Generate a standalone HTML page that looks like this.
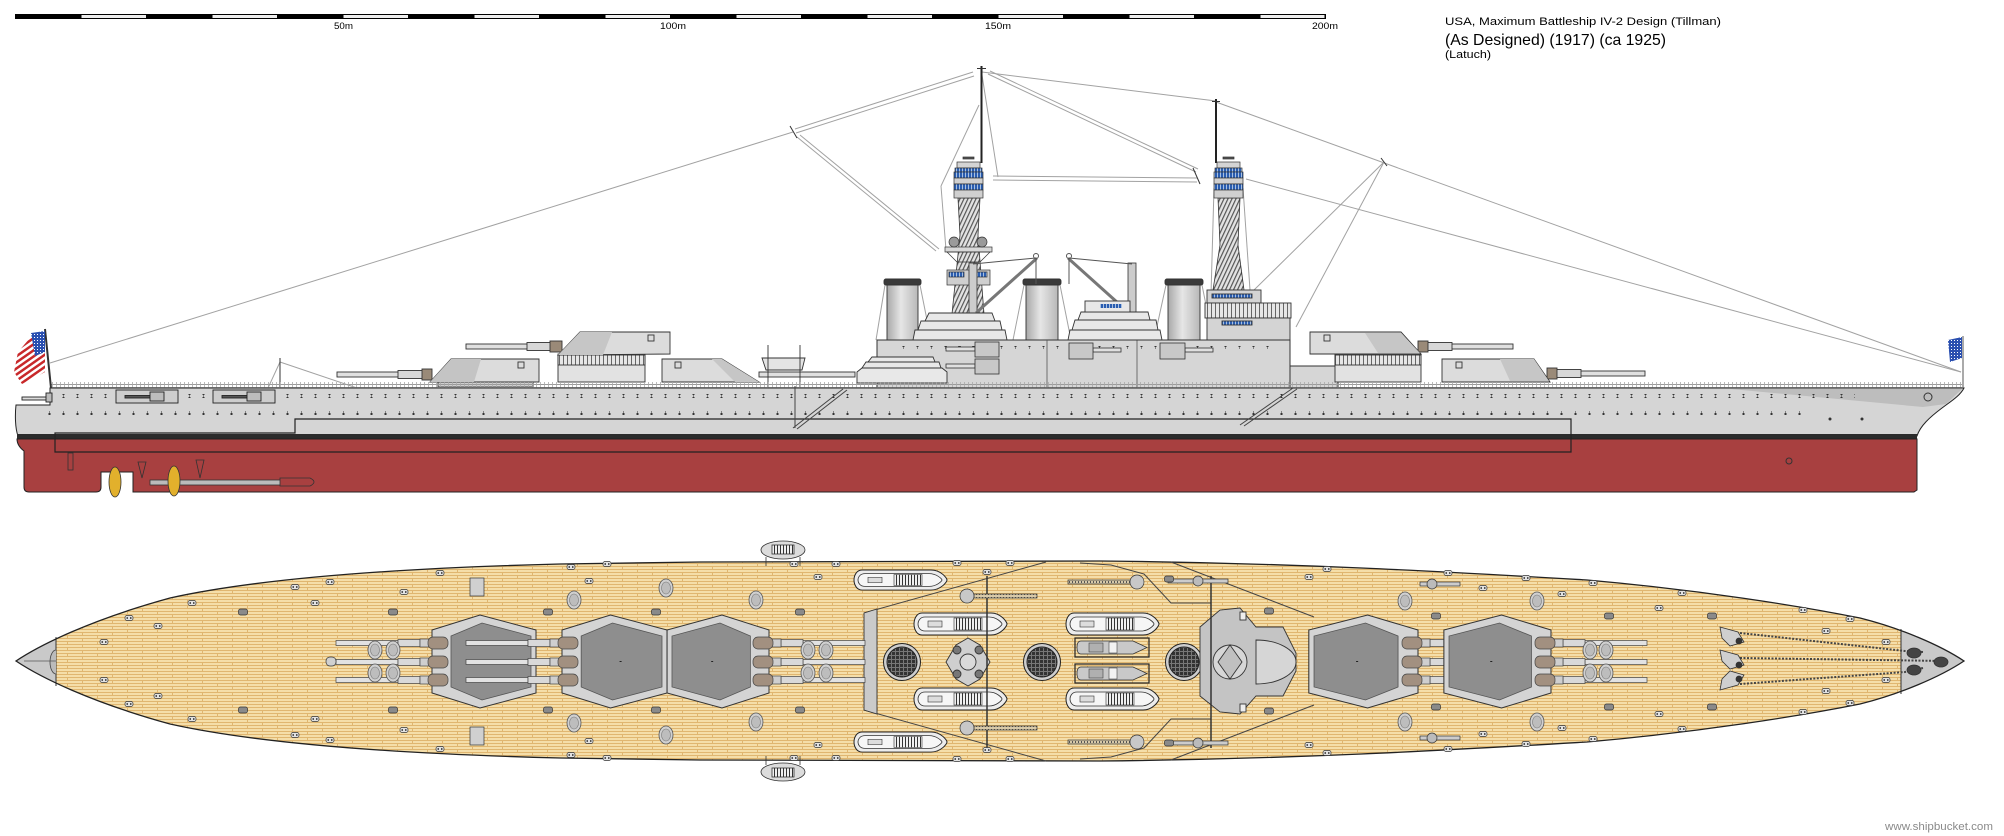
<!DOCTYPE html>
<html><head><meta charset="utf-8">
<style>
html,body{margin:0;padding:0;background:#fff;}
body{width:2004px;height:836px;overflow:hidden;position:relative;}
svg{position:absolute;left:0;top:0;}
text{font-family:"Liberation Sans",Arial,sans-serif;}
</style></head><body>
<svg width="2004" height="836" viewBox="0 0 2004 836" xmlns="http://www.w3.org/2000/svg">
<defs>
 <pattern id="planks" width="30" height="6" patternUnits="userSpaceOnUse">
  <rect width="30" height="6" fill="#F5DEA9"/>
  <rect y="2" width="30" height="1" fill="#E0B670"/>
  <rect y="5" width="30" height="1" fill="#E0B670"/>
  <rect x="7" y="0" width="1" height="2" fill="#E0B670"/>
  <rect x="22" y="3" width="1" height="2" fill="#E0B670"/>
 </pattern>
 <pattern id="ports" width="14" height="4" patternUnits="userSpaceOnUse">
  <rect x="6" y="1.5" width="3" height="1" fill="#333"/><rect x="7" y="0.5" width="1" height="3" fill="#333"/>
 </pattern>
 <pattern id="rail" width="4" height="6" patternUnits="userSpaceOnUse">
  <rect width="4" height="1" fill="#9a9a9a"/><rect y="3" width="4" height="0.8" fill="#b8b8b8"/><rect width="0.8" height="6" fill="#a8a8a8"/>
 </pattern>
 <pattern id="vstripe" width="4" height="10" patternUnits="userSpaceOnUse">
  <rect width="4" height="10" fill="#e6e6e6"/><rect x="3" width="1" height="10" fill="#666"/>
 </pattern>
 <pattern id="cage" width="4" height="6" patternUnits="userSpaceOnUse" patternTransform="skewX(-25)">
  <rect width="4" height="6" fill="#e2e2e2"/><rect width="1.3" height="6" fill="#555"/>
 </pattern>
 <pattern id="win" width="3" height="10" patternUnits="userSpaceOnUse">
  <rect width="3" height="10" fill="#2a5db0"/><rect x="2" width="1" height="10" fill="#a8c0e0"/>
 </pattern>
 <pattern id="fgrid" width="4" height="4" patternUnits="userSpaceOnUse">
  <rect width="4" height="4" fill="#333"/><rect x="3" width="1" height="4" fill="#777"/><rect y="3" width="4" height="1" fill="#777"/>
 </pattern>
 <pattern id="stars" width="3" height="3" patternUnits="userSpaceOnUse">
  <rect width="3" height="3" fill="#2a4fb0"/><rect x="1" y="1" width="1" height="1" fill="#fff"/>
 </pattern>
 <pattern id="fstripe" width="10" height="5" patternUnits="userSpaceOnUse" patternTransform="rotate(-35)">
  <rect width="10" height="2.5" fill="#c8282a"/><rect y="2.5" width="10" height="2.5" fill="#fff"/>
 </pattern>
 <pattern id="thw" width="3" height="10" patternUnits="userSpaceOnUse">
  <rect width="3" height="10" fill="#f0f0f0"/><rect width="1" height="10" fill="#333"/>
 </pattern>
 <pattern id="dotb" width="3" height="4" patternUnits="userSpaceOnUse">
  <rect width="3" height="4" fill="#d8c9a8"/><rect x="1" y="1" width="1" height="2" fill="#555"/>
 </pattern>
 <linearGradient id="fun" x1="0" y1="0" x2="1" y2="0">
  <stop offset="0" stop-color="#a8a8a8"/><stop offset="0.45" stop-color="#e6e6e6"/><stop offset="1" stop-color="#b8b8b8"/>
 </linearGradient>
 <clipPath id="deckclip"><path d="M16,661 C40,645 90,620 170,598 C260,578 400,568 560,564 L700,562 L1100,561 C1300,563 1450,572 1587,580 C1700,590 1800,606 1860,618 C1900,628 1940,645 1964,661 C1940,677 1900,694 1860,704 C1800,716 1700,732 1587,742 C1450,750 1300,759 1100,761 L700,760 L560,758 C400,754 260,744 170,724 C90,702 40,677 16,661 Z"/></clipPath>
 <clipPath id="flagclip"><polygon points="45,331 45,372 34,378 22,384 14,372 18,352 30,338"/></clipPath>

 <g id="boatT">
  <path d="M8,0 L77,0 C87,0 93,9 93,11 C93,13 87,22 77,22 L8,22 C2,22 0,15 0,11 C0,7 2,0 8,0 Z" fill="#ececec" stroke="#222" stroke-width="1"/>
  <path d="M11,4 L75,4 C83,4 88,10 88,11 C88,12 83,18 75,18 L11,18 C6,18 4,14 4,11 C4,8 6,4 11,4 Z" fill="#f6f6f6" stroke="#333" stroke-width="0.8"/>
  <rect x="40" y="5" width="28" height="12" fill="url(#thw)" stroke="#333" stroke-width="0.6"/>
  <rect x="14" y="8" width="14" height="6" fill="#ddd" stroke="#333" stroke-width="0.6"/>
 </g>
 <g id="launch">
  <rect x="0" y="0" width="74" height="19" fill="none" stroke="#222" stroke-width="1.2"/>
  <path d="M6,3 L58,3 L72,9.5 L58,16 L6,16 C3,16 2,13 2,9.5 C2,6 3,3 6,3 Z" fill="#c9c9c9" stroke="#333" stroke-width="0.8"/>
  <rect x="14" y="5" width="14" height="9" fill="#b0b0b0" stroke="#444" stroke-width="0.6"/>
  <rect x="34" y="4" width="8" height="11" fill="#f2f2f2" stroke="#444" stroke-width="0.6"/>
 </g>
 <g id="hexL">
  <polygon points="0,-31.5 48,-46.5 104,-31.5 104,31.5 48,46.5 0,31.5" fill="#d4d4d4" stroke="#333" stroke-width="1"/>
  <polygon points="19,-25.5 50,-38.5 99,-25.5 99,25.5 50,38.5 19,25.5" fill="#8e8e8e" stroke="#555" stroke-width="0.8"/>
  <rect x="57" y="-0.5" width="2" height="1" fill="#222"/>
 </g>
 <g id="gunL" stroke="#444" stroke-width="0.7">
  <rect x="-96" y="-21.5" width="62" height="5" fill="#e2e2e2"/>
  <rect x="-34" y="-22.5" width="22" height="7" fill="#d9d9d9"/>
  <rect x="-12" y="-23" width="9" height="8" fill="#cfcfcf"/>
  <rect x="-4" y="-25" width="20" height="12" rx="5" fill="#a29080"/>
  <rect x="-96" y="-2.5" width="62" height="5" fill="#e2e2e2"/>
  <rect x="-34" y="-3.5" width="22" height="7" fill="#d9d9d9"/>
  <rect x="-12" y="-4" width="9" height="8" fill="#cfcfcf"/>
  <rect x="-4" y="-6" width="20" height="12" rx="5" fill="#a29080"/>
  <rect x="-96" y="15.5" width="62" height="5" fill="#e2e2e2"/>
  <rect x="-34" y="14.5" width="22" height="7" fill="#d9d9d9"/>
  <rect x="-12" y="14" width="9" height="8" fill="#cfcfcf"/>
  <rect x="-4" y="12" width="20" height="12" rx="5" fill="#a29080"/>
 </g>
 <g id="bol"><rect x="-4" y="-2.5" width="8" height="5" rx="2" fill="#e2e2e2" stroke="#333" stroke-width="0.7"/><rect x="-2.5" y="-1" width="1.5" height="2" fill="#555"/><rect x="1" y="-1" width="1.5" height="2" fill="#555"/></g>
 <g id="vent"><rect x="-4.5" y="-3" width="9" height="6" rx="2" fill="#8a8a8a" stroke="#333" stroke-width="0.7"/></g>
 <g id="vtl"><ellipse cx="0" cy="0" rx="7" ry="9" fill="#d0d0d0" stroke="#555" stroke-width="0.8"/><ellipse cx="0" cy="0" rx="4.5" ry="6" fill="#bdbdbd" stroke="#777" stroke-width="0.6"/></g>
</defs>

<rect width="2004" height="836" fill="#fff"/>

<!-- ===== SCALE BAR ===== -->
<rect x="15" y="14" width="1311" height="5" fill="#000"/>
<g fill="#eeeeee">
 <rect x="81.5" y="15" width="64.5" height="3"/><rect x="212.5" y="15" width="64.5" height="3"/>
 <rect x="343.5" y="15" width="64.5" height="3"/><rect x="474.5" y="15" width="64.5" height="3"/>
 <rect x="605.5" y="15" width="64.5" height="3"/><rect x="736.5" y="15" width="64.5" height="3"/>
 <rect x="867.5" y="15" width="64.5" height="3"/><rect x="998.5" y="15" width="64.5" height="3"/>
 <rect x="1129.5" y="15" width="64.5" height="3"/><rect x="1260.5" y="15" width="64" height="3"/>
</g>
<g font-size="9" fill="#000">
 <text x="334" y="29" textLength="19" lengthAdjust="spacingAndGlyphs">50m</text>
 <text x="660" y="29" textLength="26" lengthAdjust="spacingAndGlyphs">100m</text>
 <text x="985" y="29" textLength="26" lengthAdjust="spacingAndGlyphs">150m</text>
 <text x="1312" y="29" textLength="26" lengthAdjust="spacingAndGlyphs">200m</text>
</g>

<!-- ===== TITLE ===== -->
<text x="1445" y="25" font-size="11" fill="#000" textLength="276" lengthAdjust="spacingAndGlyphs">USA, Maximum Battleship IV-2 Design (Tillman)</text>
<text x="1445" y="45" font-size="16" fill="#000" textLength="221" lengthAdjust="spacingAndGlyphs">(As Designed) (1917) (ca 1925)</text>
<text x="1445" y="58" font-size="11" fill="#000" textLength="46" lengthAdjust="spacingAndGlyphs">(Latuch)</text>

<!-- ===== SIDE VIEW ===== -->
<!-- rigging -->
<g stroke="#a2a2a2" stroke-width="1" fill="none">
 <line x1="50" y1="363" x2="793" y2="132"/>
 <line x1="795" y1="129" x2="973" y2="72"/>
 <line x1="796" y1="133" x2="974" y2="76"/>
 <line x1="797" y1="137" x2="936" y2="251"/>
 <line x1="800" y1="135" x2="939" y2="249"/>
 <line x1="982" y1="72" x2="1216" y2="101"/>
 <line x1="988" y1="74" x2="1196" y2="172"/>
 <line x1="990" y1="71" x2="1198" y2="169"/>
 <line x1="993" y1="176" x2="1197" y2="178"/>
 <line x1="993" y1="180" x2="1197" y2="182"/>
 <line x1="1216" y1="102" x2="1961" y2="372"/>
 <line x1="1246" y1="179" x2="1961" y2="372"/>
 <line x1="1384" y1="162" x2="1296" y2="327"/>
 <line x1="1384" y1="162" x2="1253" y2="291"/>
 <line x1="982" y1="75" x2="998" y2="177"/>
 <line x1="979" y1="105" x2="941" y2="186"/>
 <line x1="941" y1="186" x2="946" y2="250"/>
 <line x1="1214" y1="188" x2="1210" y2="330"/>
 <line x1="1243" y1="188" x2="1250" y2="290"/>
 <line x1="280" y1="362" x2="357" y2="388"/>
 <line x1="280" y1="362" x2="268" y2="388"/>
 <line x1="885" y1="285" x2="876" y2="340"/><line x1="920" y1="285" x2="931" y2="340"/>
 <line x1="1024" y1="285" x2="1013" y2="340"/><line x1="1060" y1="285" x2="1071" y2="340"/>
 <line x1="1166" y1="285" x2="1154" y2="340"/><line x1="1202" y1="285" x2="1213" y2="340"/>
</g>
<g stroke="#333" stroke-width="1">
 <line x1="790" y1="126" x2="797" y2="138"/>
 <line x1="1193" y1="168" x2="1200" y2="184"/>
 <line x1="1381" y1="158" x2="1387" y2="166"/>
 <line x1="280" y1="358" x2="280" y2="388"/>
</g>

<!-- pole masts -->
<rect x="980.5" y="66" width="2" height="97" fill="#222"/>
<rect x="977" y="68" width="9" height="1" fill="#333"/>
<rect x="1215" y="99" width="2" height="64" fill="#222"/>
<rect x="1212" y="101" width="8" height="1" fill="#333"/>

<!-- aft cage mast -->
<polygon points="958,198 980,198 978,235 984,314 952,314 960,235" fill="url(#cage)" stroke="#333" stroke-width="0.8"/>
<g stroke="#333" stroke-width="0.7">
 <rect x="963" y="157" width="11" height="2" fill="#555"/>
 <rect x="957" y="162" width="23" height="6" fill="#d4d4d4"/>
 <rect x="955" y="168" width="27" height="4" fill="url(#win)"/>
 <rect x="954" y="172" width="29" height="6" fill="url(#win)"/>
 <rect x="954" y="178" width="29" height="6" fill="#d0d0d0"/>
 <rect x="954" y="184" width="29" height="6" fill="url(#win)"/>
 <rect x="954" y="190" width="29" height="8" fill="#d0d0d0"/>
 <rect x="945" y="247" width="47" height="5" fill="#d8d8d8"/>
 <circle cx="954" cy="242" r="5" fill="#9a9a9a"/>
 <circle cx="982" cy="242" r="5" fill="#9a9a9a"/>
 <polygon points="947,252 990,252 980,262 957,262" fill="none"/>
 <rect x="947" y="270" width="43" height="15" fill="#cfcfcf"/>
 <rect x="949" y="272" width="15" height="5" fill="url(#win)"/>
 <rect x="972" y="272" width="15" height="5" fill="url(#win)"/>
</g>

<!-- fore cage mast -->
<polygon points="1218,198 1240,198 1238,245 1244,290 1213,290 1220,245" fill="url(#cage)" stroke="#333" stroke-width="0.8"/>
<g stroke="#333" stroke-width="0.7">
 <rect x="1223" y="157" width="11" height="2" fill="#555"/>
 <rect x="1217" y="162" width="23" height="6" fill="#d4d4d4"/>
 <rect x="1215" y="168" width="27" height="4" fill="url(#win)"/>
 <rect x="1214" y="172" width="29" height="6" fill="url(#win)"/>
 <rect x="1214" y="178" width="29" height="6" fill="#d0d0d0"/>
 <rect x="1214" y="184" width="29" height="6" fill="url(#win)"/>
 <rect x="1214" y="190" width="29" height="8" fill="#d0d0d0"/>
</g>

<!-- funnels -->
<g stroke="#333" stroke-width="0.9">
 <rect x="887" y="284" width="31" height="56" fill="url(#fun)"/>
 <rect x="884" y="279" width="37" height="6" rx="2" fill="#3a3a3a"/>
 <rect x="1026" y="284" width="32" height="56" fill="url(#fun)"/>
 <rect x="1023" y="279" width="38" height="6" rx="2" fill="#3a3a3a"/>
 <rect x="1168" y="284" width="32" height="56" fill="url(#fun)"/>
 <rect x="1165" y="279" width="38" height="6" rx="2" fill="#3a3a3a"/>
</g>

<!-- cranes -->
<g stroke="#333" stroke-width="0.8">
 <rect x="969" y="263" width="8" height="77" fill="#cccccc"/>
 <rect x="1128" y="263" width="8" height="77" fill="#cccccc"/>
</g>
<g stroke="#777" stroke-width="3" stroke-linecap="round">
 <line x1="977" y1="312" x2="1036" y2="259"/>
 <line x1="1128" y1="312" x2="1069" y2="259"/>
</g>
<g stroke="#555" stroke-width="1" fill="none">
 <line x1="973" y1="264" x2="1036" y2="258"/>
 <line x1="1132" y1="264" x2="1069" y2="258"/>
 <line x1="1036" y1="258" x2="1036" y2="284"/>
 <line x1="1069" y1="258" x2="1069" y2="284"/>
 <circle cx="1036" cy="256" r="2.5"/><circle cx="1069" cy="256" r="2.5"/>
</g>

<!-- bridge -->
<g stroke="#333" stroke-width="0.9">
 <rect x="1207" y="290" width="54" height="13" fill="#d4d4d4"/>
 <rect x="1212" y="294" width="40" height="4" fill="url(#win)"/>
 <rect x="1205" y="303" width="86" height="15" fill="url(#vstripe)"/>
 <rect x="1207" y="318" width="83" height="22" fill="#d4d4d4"/>
 <rect x="1222" y="321" width="30" height="4" fill="url(#win)"/>
</g>

<!-- superstructure block -->
<rect x="877" y="340" width="413" height="48" fill="#d6d6d6" stroke="#333" stroke-width="1"/>
<rect x="1290" y="366" width="48" height="22" fill="#d6d6d6" stroke="#333" stroke-width="1"/>
<g stroke="#555" stroke-width="0.8"><line x1="1047" y1="340" x2="1047" y2="388"/><line x1="1137" y1="340" x2="1137" y2="388"/></g>
<rect x="900" y="346" width="370" height="3" fill="url(#ports)"/>

<!-- superstructure casemates -->
<g stroke="#333" stroke-width="0.8">
 <rect x="946" y="347" width="29" height="4" fill="#e0e0e0"/><rect x="975" y="342" width="24" height="15" fill="#c8c8c8"/>
 <rect x="946" y="364" width="29" height="4" fill="#e0e0e0"/><rect x="975" y="359" width="24" height="15" fill="#c8c8c8"/>
 <rect x="1093" y="348" width="28" height="4" fill="#e0e0e0"/><rect x="1069" y="343" width="24" height="16" fill="#c8c8c8"/>
 <rect x="1185" y="348" width="28" height="4" fill="#e0e0e0"/><rect x="1160" y="343" width="25" height="16" fill="#c8c8c8"/>
</g>

<!-- boat stacks (side) -->
<g fill="#e8e8e8" stroke="#333" stroke-width="0.9">
 <path d="M857,383 L947,383 L947,372 L942,368 L862,368 L857,372 Z"/>
 <path d="M862,368 L941,368 L939,362 L866,362 Z"/>
 <path d="M868,362 L935,362 L933,357 L872,357 Z"/>
 <path d="M913,340 L1007,340 L1005,330 L915,330 Z"/>
 <path d="M918,330 L1002,330 L1000,321 L921,321 Z"/>
 <path d="M925,321 L995,321 L992,313 L929,313 Z"/>
 <path d="M1068,340 L1162,340 L1160,330 L1070,330 Z"/>
 <path d="M1072,330 L1158,330 L1156,320 L1075,320 Z"/>
 <path d="M1078,320 L1150,320 L1148,312 L1081,312 Z"/>
 <rect x="1085" y="301" width="45" height="11"/>
</g>
<rect x="1100" y="304" width="22" height="4" fill="url(#win)"/>

<!-- turrets side -->
<g stroke="#333" stroke-width="0.9">
 <!-- Y -->
 <rect x="337" y="372" width="62" height="5" fill="#e0e0e0"/>
 <rect x="398" y="370.5" width="25" height="8" fill="#d8d8d8"/>
 <rect x="422" y="369" width="10" height="11" fill="#9a8a78"/>
 <rect x="438" y="382" width="95" height="5" fill="#d0d0d0"/>
 <polygon points="430,382 451,359 539,359 539,382" fill="#dcdcdc"/>
 <polygon points="430,382 451,359 481,359 474,382" fill="#c4c4c4" stroke="none"/>
 <rect x="518" y="362" width="6" height="6" fill="none"/>
 <!-- X -->
 <rect x="466" y="344" width="62" height="5" fill="#e0e0e0"/>
 <rect x="527" y="342.5" width="25" height="8" fill="#d8d8d8"/>
 <rect x="550" y="341" width="12" height="11" fill="#9a8a78"/>
 <rect x="558" y="354" width="87" height="28" fill="#e2e2e2"/>
 <rect x="558" y="355" width="87" height="10" fill="url(#vstripe)"/>
 <polygon points="558,355 580,332 670,332 670,354" fill="#dcdcdc"/>
 <polygon points="558,355 580,332 612,332 603,355" fill="#c6c6c6" stroke="none"/>
 <rect x="648" y="335" width="6" height="6" fill="none"/>
 <!-- Q -->
 <rect x="759" y="372" width="96" height="5" fill="#e0e0e0"/>
 <polygon points="662,359 722,359 759,382 662,382" fill="#dcdcdc"/>
 <polygon points="712,359 722,359 759,382 735,382" fill="#c6c6c6" stroke="none"/>
 <rect x="675" y="362" width="6" height="6" fill="none"/>
 <!-- davit boat over Q guns -->
 <path d="M762,358 L805,358 L802,370 L766,370 Z" fill="#e4e4e4"/>
 <line x1="768" y1="345" x2="768" y2="388"/><line x1="800" y1="345" x2="800" y2="388"/>
 <!-- B -->
 <rect x="1335" y="354" width="86" height="28" fill="#e2e2e2"/>
 <rect x="1335" y="355" width="86" height="10" fill="url(#vstripe)"/>
 <rect x="1451" y="344" width="62" height="5" fill="#e0e0e0"/>
 <rect x="1427" y="342.5" width="25" height="8" fill="#d8d8d8"/>
 <rect x="1418" y="341" width="10" height="11" fill="#9a8a78"/>
 <polygon points="1310,332 1401,332 1421,354 1310,354" fill="#dcdcdc"/>
 <polygon points="1365,333 1401,333 1420,353 1378,353" fill="#c6c6c6" stroke="none"/>
 <rect x="1324" y="335" width="6" height="6" fill="none"/>
 <!-- A -->
 <rect x="1580" y="371" width="65" height="5" fill="#e0e0e0"/>
 <rect x="1556" y="369.5" width="25" height="8" fill="#d8d8d8"/>
 <rect x="1547" y="368" width="10" height="11" fill="#9a8a78"/>
 <polygon points="1442,359 1534,359 1550,382 1442,382" fill="#dcdcdc"/>
 <polygon points="1500,359 1534,359 1549,381 1510,381" fill="#c6c6c6" stroke="none"/>
 <rect x="1456" y="362" width="6" height="6" fill="none"/>
</g>

<!-- railing -->
<rect x="50" y="382" width="1912" height="6" fill="url(#rail)"/>

<!-- hull -->
<path d="M16,405 H50 V388 H1964 C1960,396 1950,402 1942,408 C1930,417 1920,426 1917,436 L18,436 C15,428 15,414 16,405 Z" fill="#d5d5d5" stroke="#222" stroke-width="1"/>
<polygon points="1731,389 1962,389 1946,404 1923,407" fill="#bdbdbd"/>
<rect x="17" y="434" width="1900" height="5" fill="#2b2b2b"/>
<path d="M17,439 H1917 V490 L1914,492 H133 V472 H101 V487 Q101,492 96,492 H29 Q24,492 24,487 V451 C20,448 17,444 17,439 Z" fill="#a84040" stroke="#222" stroke-width="1"/>
<path d="M55,452 V433 H295 V419 H1571 V452 Z" fill="none" stroke="#222" stroke-width="1.2"/>
<rect x="60" y="394" width="1795" height="4" fill="url(#ports)"/>
<rect x="40" y="411" width="1765" height="4" fill="url(#ports)"/>
<circle cx="1830" cy="419" r="1.5" fill="#333"/><circle cx="1862" cy="419" r="1.5" fill="#333"/>
<circle cx="1928" cy="397" r="4" fill="none" stroke="#333"/>
<circle cx="1789" cy="461" r="3" fill="none" stroke="#333"/>
<rect x="68" y="453" width="5" height="17" fill="none" stroke="#333" stroke-width="0.8"/>

<!-- hull casemates -->
<g stroke="#222" stroke-width="0.9">
 <rect x="116" y="390" width="62" height="13" fill="#cdcdcd"/>
 <rect x="125" y="395.5" width="28" height="2.5" fill="#555"/>
 <rect x="150" y="392" width="14" height="9" fill="#bdbdbd"/>
 <rect x="213" y="390" width="62" height="13" fill="#cdcdcd"/>
 <rect x="222" y="395.5" width="28" height="2.5" fill="#555"/>
 <rect x="247" y="392" width="14" height="9" fill="#bdbdbd"/>
 <rect x="22" y="397" width="25" height="3" fill="#ddd"/>
 <rect x="46" y="393" width="6" height="9" fill="#bbb"/>
</g>

<!-- ladders -->
<g stroke="#444" stroke-width="1">
 <line x1="793" y1="428" x2="843" y2="389"/>
 <line x1="797" y1="429" x2="847" y2="390"/>
 <line x1="795" y1="386" x2="795" y2="428"/>
 <line x1="1240" y1="425" x2="1293" y2="388"/>
 <line x1="1244" y1="426" x2="1297" y2="389"/>
</g>

<!-- propellers/shafts -->
<g stroke="#333" stroke-width="0.8">
 <rect x="150" y="480" width="150" height="5" fill="#bbb"/>
 <path d="M280,478 L310,478 Q318,482 310,486 L280,486 Z" fill="#a84040"/>
 <ellipse cx="115" cy="482" rx="6" ry="15" fill="#e2b02c"/>
 <ellipse cx="174" cy="481" rx="6" ry="15" fill="#e2b02c"/>
 <path d="M138,462 L142,478 L146,462 Z" fill="#a84040"/>
 <path d="M196,460 L200,478 L204,460 Z" fill="#a84040"/>
</g>

<!-- stern flag -->
<line x1="45" y1="329" x2="51" y2="388" stroke="#333" stroke-width="2"/>
<rect x="10" y="325" width="40" height="65" fill="url(#fstripe)" clip-path="url(#flagclip)"/>
<polygon points="31,333 45,331 45,352 35,356" fill="url(#stars)"/>
<!-- bow jack -->
<line x1="1963" y1="336" x2="1963" y2="388" stroke="#555" stroke-width="1"/>
<polygon points="1948,340 1962,337 1962,358 1950,362" fill="url(#stars)"/>

<!-- ===== TOP VIEW ===== -->
<path d="M16,661 C40,645 90,620 170,598 C260,578 400,568 560,564 L700,562 L1100,561 C1300,563 1450,572 1587,580 C1700,590 1800,606 1860,618 C1900,628 1940,645 1964,661 C1940,677 1900,694 1860,704 C1800,716 1700,732 1587,742 C1450,750 1300,759 1100,761 L700,760 L560,758 C400,754 260,744 170,724 C90,702 40,677 16,661 Z" fill="url(#planks)"/>
<g clip-path="url(#deckclip)">
 <rect x="0" y="600" width="56" height="130" fill="#c9c9c9"/>
 <rect x="1901" y="600" width="70" height="130" fill="#c9c9c9"/>
</g>
<line x1="56" y1="637" x2="56" y2="686" stroke="#333"/>
<path d="M56,650 A6,12 0 0 0 56,674" fill="#bbb" stroke="#444" stroke-width="0.8"/>
<line x1="24" y1="661" x2="56" y2="661" stroke="#555" stroke-width="0.8"/>
<line x1="1901" y1="629" x2="1901" y2="694" stroke="#333"/>
<path d="M16,661 C40,645 90,620 170,598 C260,578 400,568 560,564 L700,562 L1100,561 C1300,563 1450,572 1587,580 C1700,590 1800,606 1860,618 C1900,628 1940,645 1964,661 C1940,677 1900,694 1860,704 C1800,716 1700,732 1587,742 C1450,750 1300,759 1100,761 L700,760 L560,758 C400,754 260,744 170,724 C90,702 40,677 16,661 Z" fill="none" stroke="#222" stroke-width="1.3"/>

<!-- davit boats outside hull -->
<g stroke="#333" stroke-width="0.8">
 <ellipse cx="783" cy="550" rx="22" ry="9" fill="#dcdcdc"/>
 <rect x="772" y="545" width="22" height="9" fill="url(#thw)"/>
 <line x1="766" y1="557" x2="766" y2="566"/><line x1="800" y1="557" x2="800" y2="566"/>
 <ellipse cx="783" cy="772" rx="22" ry="9" fill="#dcdcdc"/>
 <rect x="772" y="768" width="22" height="9" fill="url(#thw)"/>
 <line x1="766" y1="756" x2="766" y2="765"/><line x1="800" y1="756" x2="800" y2="765"/>
</g>

<!-- superstructure outline lines -->
<g stroke="#444" stroke-width="1" fill="none">
 <line x1="864" y1="613" x2="1046" y2="562"/>
 <line x1="864" y1="710" x2="1046" y2="761"/>
 <polyline points="1080,563 1111,565 1144,574 1171,603 1211,603"/>
 <polyline points="1080,759 1111,757 1144,748 1171,719 1211,719"/>
 <line x1="1171" y1="562" x2="1314" y2="617"/>
 <line x1="1171" y1="760" x2="1314" y2="705"/>
</g>
<polygon points="864,613 877,609 877,714 864,710" fill="#cacaca" stroke="#333" stroke-width="0.9"/>

<!-- turrets top -->
<use href="#hexL" transform="translate(432,661.5)"/>
<use href="#gunL" transform="translate(432,662)"/>
<use href="#hexL" transform="translate(562,661.5) scale(1.01,1)"/>
<use href="#gunL" transform="translate(562,662)"/>
<use href="#hexL" transform="translate(769,661.5) scale(-0.98,1)"/>
<use href="#gunL" transform="translate(769,662) scale(-1,1)"/>
<use href="#hexL" transform="translate(1418,661.5) scale(-1.05,1)"/>
<use href="#gunL" transform="translate(1418,662) scale(-1,1)"/>
<use href="#hexL" transform="translate(1551,661.5) scale(-1.03,1)"/>
<use href="#gunL" transform="translate(1551,662) scale(-1,1)"/>

<!-- boats top -->
<use href="#boatT" transform="translate(854,570) scale(1,0.91)"/>
<use href="#boatT" transform="translate(854,732) scale(1,0.91)"/>
<use href="#boatT" transform="translate(914,613)"/>
<use href="#boatT" transform="translate(914,688)"/>
<use href="#boatT" transform="translate(1066,613)"/>
<use href="#boatT" transform="translate(1066,688)"/>
<use href="#launch" transform="translate(1075,638)"/>
<use href="#launch" transform="translate(1075,664)"/>

<!-- funnels top -->
<g stroke="#222" stroke-width="1">
 <circle cx="902" cy="662" r="18.5" fill="#cfcfcf"/><circle cx="902" cy="662" r="15" fill="url(#fgrid)"/>
 <circle cx="1042" cy="662" r="18.5" fill="#cfcfcf"/><circle cx="1042" cy="662" r="15" fill="url(#fgrid)"/>
 <circle cx="1184" cy="662" r="18.5" fill="#cfcfcf"/><circle cx="1184" cy="662" r="15" fill="url(#fgrid)"/>
</g>

<!-- aft mast top -->
<g stroke="#333" stroke-width="0.9">
 <polygon points="946,662 956,645 968,638 980,645 990,662 980,679 968,686 956,679" fill="#cfcfcf"/>
 <circle cx="957" cy="650" r="4" fill="#777"/><circle cx="957" cy="674" r="4" fill="#777"/>
 <circle cx="979" cy="650" r="4" fill="#777"/><circle cx="979" cy="674" r="4" fill="#777"/>
 <circle cx="968" cy="662" r="8" fill="#dadada"/>
</g>
<!-- fore bridge top -->
<g stroke="#333" stroke-width="0.9">
 <polygon points="1200,627 1220,610 1240,608 1256,627 1283,627 1296,653 1296,671 1283,696 1256,696 1240,714 1220,712 1200,696" fill="#c4c4c4"/>
 <path d="M1256,640 A40,22 0 0 1 1256,684 Z" fill="#d6d6d6"/>
 <circle cx="1230" cy="662" r="17" fill="#d6d6d6"/>
 <polygon points="1218,662 1230,645 1242,662 1230,679" fill="#c0c0c0"/>
 <rect x="1240" y="612" width="6" height="8" fill="#eee"/>
 <rect x="1240" y="704" width="6" height="8" fill="#eee"/>
</g>

<!-- derricks -->
<g stroke="#333" stroke-width="1.5"><line x1="987" y1="576" x2="987" y2="748"/><line x1="1211" y1="576" x2="1211" y2="748"/></g>
<!-- secondary guns top -->
<g stroke="#333" stroke-width="0.7">
 <rect x="974" y="594" width="63" height="4" fill="url(#dotb)"/><circle cx="967" cy="596" r="7" fill="#c8c8c8"/>
 <rect x="974" y="726" width="63" height="4" fill="url(#dotb)"/><circle cx="967" cy="728" r="7" fill="#c8c8c8"/>
 <rect x="1068" y="580" width="63" height="4" fill="url(#dotb)"/><circle cx="1137" cy="582" r="7" fill="#c8c8c8"/>
 <rect x="1068" y="740" width="63" height="4" fill="url(#dotb)"/><circle cx="1137" cy="742" r="7" fill="#c8c8c8"/>
 <rect x="1168" y="579" width="60" height="4" fill="#ccc"/><circle cx="1198" cy="581" r="5" fill="#bbb"/>
 <rect x="1168" y="741" width="60" height="4" fill="#ccc"/><circle cx="1198" cy="743" r="5" fill="#bbb"/>
 <rect x="1420" y="582" width="40" height="4" fill="#ccc"/><circle cx="1432" cy="584" r="5" fill="#bbb"/>
 <rect x="1420" y="736" width="40" height="4" fill="#ccc"/><circle cx="1432" cy="738" r="5" fill="#bbb"/>
</g>

<!-- ventilators -->
<use href="#vtl" x="574" y="600"/><use href="#vtl" x="574" y="723"/>
<use href="#vtl" x="666" y="588"/><use href="#vtl" x="666" y="735"/>
<use href="#vtl" x="756" y="600"/><use href="#vtl" x="756" y="722"/>
<use href="#vtl" x="1405" y="601"/><use href="#vtl" x="1405" y="722"/>
<use href="#vtl" x="1537" y="601"/><use href="#vtl" x="1537" y="722"/>
<use href="#vtl" x="375" y="650"/><use href="#vtl" x="375" y="673"/>
<use href="#vtl" x="393" y="650"/><use href="#vtl" x="393" y="673"/>
<use href="#vtl" x="808" y="650"/><use href="#vtl" x="808" y="673"/>
<use href="#vtl" x="826" y="650"/><use href="#vtl" x="826" y="673"/>
<use href="#vtl" x="1590" y="650"/><use href="#vtl" x="1590" y="673"/>
<use href="#vtl" x="1606" y="650"/><use href="#vtl" x="1606" y="673"/>

<!-- bollards -->
<g>
 <use href="#bol" x="440" y="573"/><use href="#bol" x="330" y="582"/><use href="#bol" x="295" y="587"/>
 <use href="#bol" x="192" y="603"/><use href="#bol" x="404" y="592"/><use href="#bol" x="315" y="603"/>
 <use href="#bol" x="158" y="626"/><use href="#bol" x="104" y="642"/><use href="#bol" x="129" y="618"/>
 <use href="#bol" x="571" y="567"/><use href="#bol" x="607" y="564"/><use href="#bol" x="589" y="581"/>
 <use href="#bol" x="440" y="749"/><use href="#bol" x="330" y="740"/><use href="#bol" x="295" y="735"/>
 <use href="#bol" x="192" y="719"/><use href="#bol" x="404" y="730"/><use href="#bol" x="315" y="719"/>
 <use href="#bol" x="158" y="696"/><use href="#bol" x="104" y="680"/><use href="#bol" x="129" y="704"/>
 <use href="#bol" x="571" y="755"/><use href="#bol" x="607" y="758"/><use href="#bol" x="589" y="741"/>
 <use href="#bol" x="818" y="577"/><use href="#bol" x="836" y="564"/><use href="#bol" x="794" y="564"/>
 <use href="#bol" x="987" y="572"/><use href="#bol" x="957" y="563"/><use href="#bol" x="1010" y="563"/>
 <use href="#bol" x="1309" y="577"/><use href="#bol" x="1327" y="569"/>
 <use href="#bol" x="818" y="745"/><use href="#bol" x="836" y="758"/><use href="#bol" x="794" y="758"/>
 <use href="#bol" x="987" y="750"/><use href="#bol" x="957" y="759"/><use href="#bol" x="1010" y="759"/>
 <use href="#bol" x="1309" y="745"/><use href="#bol" x="1327" y="753"/>
 <use href="#bol" x="1483" y="588"/><use href="#bol" x="1562" y="594"/><use href="#bol" x="1659" y="608"/>
 <use href="#bol" x="1826" y="631"/><use href="#bol" x="1886" y="642"/><use href="#bol" x="1448" y="573"/>
 <use href="#bol" x="1526" y="578"/><use href="#bol" x="1593" y="583"/><use href="#bol" x="1682" y="593"/>
 <use href="#bol" x="1803" y="610"/><use href="#bol" x="1850" y="619"/>
 <use href="#bol" x="1483" y="734"/><use href="#bol" x="1562" y="728"/><use href="#bol" x="1659" y="714"/>
 <use href="#bol" x="1826" y="691"/><use href="#bol" x="1886" y="680"/><use href="#bol" x="1448" y="749"/>
 <use href="#bol" x="1526" y="744"/><use href="#bol" x="1593" y="739"/><use href="#bol" x="1682" y="729"/>
 <use href="#bol" x="1803" y="712"/><use href="#bol" x="1850" y="703"/>
</g>
<g>
 <use href="#vent" x="243" y="612"/><use href="#vent" x="393" y="612"/><use href="#vent" x="548" y="612"/><use href="#vent" x="656" y="612"/>
 <use href="#vent" x="243" y="710"/><use href="#vent" x="393" y="710"/><use href="#vent" x="548" y="710"/><use href="#vent" x="656" y="710"/>
 <use href="#vent" x="800" y="612"/><use href="#vent" x="800" y="710"/>
 <use href="#vent" x="1169" y="579"/><use href="#vent" x="1169" y="743"/>
 <use href="#vent" x="1269" y="611"/><use href="#vent" x="1269" y="711"/>
 <use href="#vent" x="1436" y="616"/><use href="#vent" x="1609" y="616"/><use href="#vent" x="1712" y="616"/>
 <use href="#vent" x="1436" y="707"/><use href="#vent" x="1609" y="707"/><use href="#vent" x="1712" y="707"/>
</g>
<!-- small deck items near stern turret -->
<g stroke="#333" stroke-width="0.7" fill="#d0d0d0">
 <rect x="470" y="578" width="14" height="18"/><rect x="470" y="727" width="14" height="18"/>
 <rect x="326" y="657" width="10" height="9" rx="4"/>
</g>

<!-- anchor gear -->
<g stroke="#444" stroke-width="2" stroke-dasharray="2,1.5" fill="none">
 <polyline points="1740,633 1905,651 1923,652"/>
 <polyline points="1740,658 1945,661"/>
 <polyline points="1740,684 1905,672 1923,668"/>
</g>
<g stroke="#333" stroke-width="0.8">
 <path d="M1720,627 L1738,632 L1744,642 L1730,646 L1722,638 Z" fill="#cfcfcf"/>
 <path d="M1720,650 L1738,655 L1744,665 L1730,669 L1722,661 Z" fill="#cfcfcf"/>
 <path d="M1720,690 L1738,685 L1744,675 L1730,671 L1722,679 Z" fill="#cfcfcf"/>
 <circle cx="1739" cy="641" r="3" fill="#333"/><circle cx="1739" cy="665" r="3" fill="#333"/><circle cx="1739" cy="679" r="3" fill="#333"/>
 <ellipse cx="1914" cy="653" rx="7" ry="5" fill="#444"/>
 <ellipse cx="1914" cy="670" rx="7" ry="5" fill="#444"/>
 <ellipse cx="1941" cy="662" rx="7" ry="5" fill="#444"/>
</g>

<!-- watermark -->
<text x="1885" y="830" font-size="11" fill="#8a8a8a" textLength="108" lengthAdjust="spacingAndGlyphs">www.shipbucket.com</text>
</svg>
</body></html>
